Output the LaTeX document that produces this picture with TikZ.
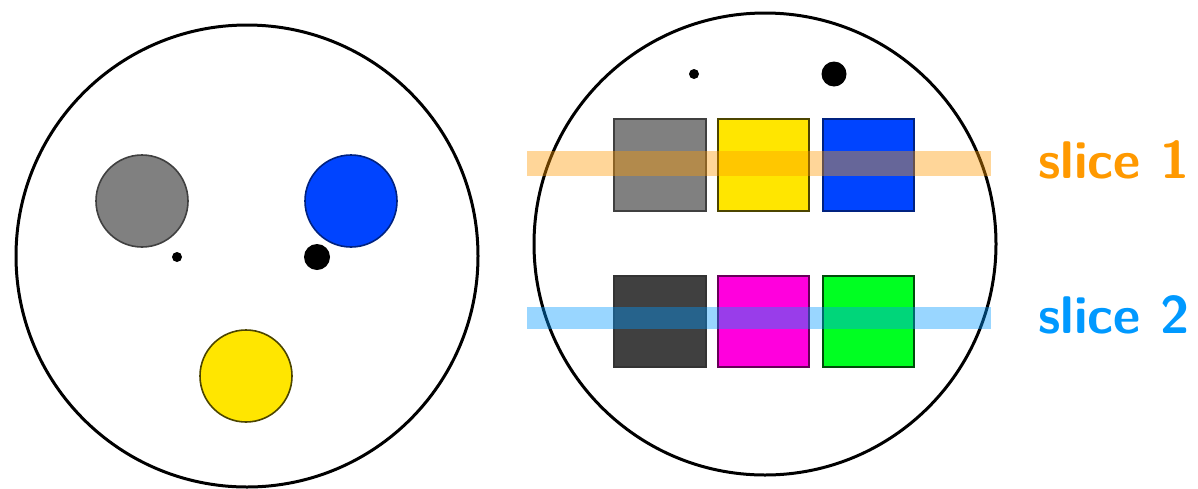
\documentclass[tikz,border=0pt]{standalone}
\usepackage{xcolor}
\definecolor{cgray}{RGB}{128,128,128}
\definecolor{cblue}{RGB}{0,68,255}
\definecolor{cyellow}{RGB}{255,230,0}
\definecolor{cdark}{RGB}{64,64,64}
\definecolor{cmag}{RGB}{255,0,221}
\definecolor{cgreen}{RGB}{0,255,34}
\definecolor{corange}{RGB}{255,153,0}
\definecolor{cslice}{RGB}{0,153,255}
\tikzset{
  outer/.style={draw=black,line width=3pt,fill=white},
  blob/.style={draw=black!75,line width=1.6pt},
  dot/.style={fill=black},
  band/.style={opacity=0.4},
  lbl/.style={font=\sffamily\bfseries\fontsize{53}{60}\selectfont,anchor=base west,inner sep=0pt}
}
\begin{document}
\begin{tikzpicture}[x=1pt,y=-1pt]
\useasboundingbox (0,0) rectangle (1198,488);
% left circle
\draw[outer] (247,256) circle (231);
\draw[blob,fill=cgray] (142,201) circle (46);
\draw[blob,fill=cblue,draw=cblue!50!black] (351,201) circle (46);
\draw[blob,fill=cyellow,draw=cyellow!30!black] (246,376) circle (46);
\fill[dot] (177,257) circle (5);
\fill[dot] (317,257) circle (13);
% right circle
\draw[outer] (765,244) circle (231);
\fill[dot] (694,74) circle (5);
\fill[dot] (834,74) circle (12.5);
\draw[blob,fill=cgray] (614,119) rectangle (706,211);
\draw[blob,fill=cyellow,draw=cyellow!30!black] (718,119) rectangle (809,211);
\draw[blob,fill=cblue,draw=cblue!50!black] (823,119) rectangle (914,211);
\draw[blob,fill=cdark,draw=black!80] (614,276) rectangle (706,367);
\draw[blob,fill=cmag,draw=cmag!40!black] (718,276) rectangle (809,367);
\draw[blob,fill=cgreen,draw=cgreen!30!black] (823,276) rectangle (914,367);
% slice bands
\fill[band,corange] (527,151) rectangle (991,176);
\fill[band,cslice] (527,307) rectangle (991,329);
\node[lbl,text=corange] (s1) at (1038,178) {slice 1};
\node[lbl,text=cslice] (s2) at (1038,333) {slice 2};
\end{tikzpicture}
\end{document}
